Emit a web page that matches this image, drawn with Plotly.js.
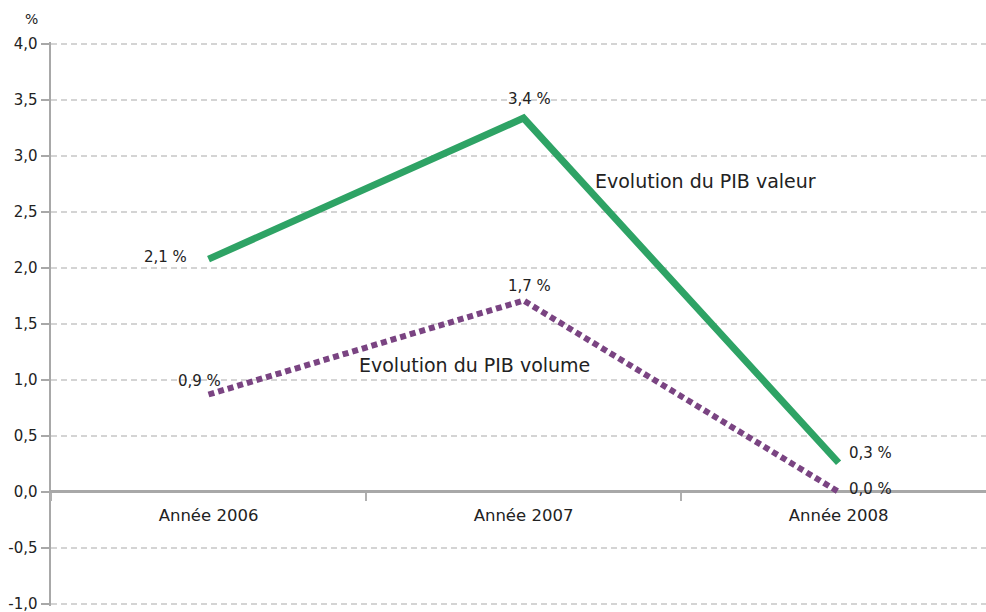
<!DOCTYPE html>
<html><head><meta charset="utf-8">
<script src="https://cdn.plot.ly/plotly-3.0.1.min.js"></script>
<style>html,body{margin:0;padding:0;background:#fff}#c{width:986px;height:612px}</style>
</head><body><div id="c"></div>
<script>
var categories = ["Année 2006", "Année 2007", "Année 2008"];
var pibValeur = [2.08, 3.34, 0.26];
var pibVolume = [0.87, 1.71, 0.0];
var labelsValeur = ["2,1 %", "3,4 %", "0,3 %"];
var labelsVolume = ["0,9 %", "1,7 %", "0,0 %"];
var yTicks = [-1, -0.5, 0, 0.5, 1, 1.5, 2, 2.5, 3, 3.5, 4];
var yTickText = ["-1,0", "-0,5", "0,0", "0,5", "1,0", "1,5", "2,0", "2,5", "3,0", "3,5", "4,0"];

var font = "DejaVu Sans, sans-serif";
var traces = [
  {x: categories, y: pibValeur, type: "scatter", mode: "lines",
   line: {color: "#2ea365", width: 7}, hoverinfo: "skip", cliponaxis: false},
  {x: categories, y: pibVolume, type: "scatter", mode: "lines",
   line: {color: "#7a4482", width: 6, dash: "6px,4px"}, hoverinfo: "skip", cliponaxis: false}
];
var ann = [];
// value labels: [index, xanchor, yanchor, xshift, yshift]
var vPos = [[0, "right", "middle", -20, 2], [1, "center", "bottom", 6, 8], [2, "left", "middle", 8, 10]];
var pPos = [[0, "right", "middle", 14, 14], [1, "center", "bottom", 6, 4], [2, "left", "middle", 8, 3]];
vPos.forEach(function(p){
  ann.push({x: p[0], y: pibValeur[p[0]], xref: "x", yref: "y", text: labelsValeur[p[0]],
    showarrow: false, xanchor: p[1], yanchor: p[2], xshift: p[3], yshift: p[4],
    font: {family: font, size: 15, color: "#222"}});
});
pPos.forEach(function(p){
  ann.push({x: p[0], y: pibVolume[p[0]], xref: "x", yref: "y", text: labelsVolume[p[0]],
    showarrow: false, xanchor: p[1], yanchor: p[2], xshift: p[3], yshift: p[4],
    font: {family: font, size: 15, color: "#222"}});
});
ann.push({x: 1.22, y: 2.78, xref: "x", yref: "y", text: "Evolution du PIB valeur", showarrow: false,
  xanchor: "left", yanchor: "middle", font: {family: font, size: 19, color: "#222"}});
ann.push({x: 0.47, y: 1.13, xref: "x", yref: "y", text: "Evolution du PIB volume", showarrow: false,
  xanchor: "left", yanchor: "middle", font: {family: font, size: 19, color: "#222"}});
ann.push({x: -0.02, y: 1.045, xref: "paper", yref: "paper", text: "%", showarrow: false,
  xanchor: "center", yanchor: "middle", xshift: -1, yshift: -2,
  font: {family: font, size: 14, color: "#222"}});

var layout = {
  width: 986, height: 612,
  margin: {l: 51, r: 0, t: 42, b: 6},
  paper_bgcolor: "#fff", plot_bgcolor: "#fff",
  showlegend: false,
  font: {family: font, size: 15, color: "#222"},
  xaxis: {type: "category", range: [-0.5, 2.468], anchor: "free", position: 0.2024,
    tickson: "boundaries", ticks: "outside", ticklen: 8, tickcolor: "#b0b0b0", tickwidth: 1.5,
    ticklabelstandoff: 12, automargin: false,
    showgrid: false, showline: false, zeroline: false, fixedrange: true,
    tickfont: {family: font, size: 16.5, color: "#222"}},
  yaxis: {range: [-1.02, 4.02], tickmode: "array", tickvals: yTicks, ticktext: yTickText,
    ticks: "outside", ticklen: 8, tickcolor: "#a8a8a8", tickwidth: 2, automargin: false,
    ticklabeloverflow: "allow",
    showgrid: true, gridcolor: "#d4d4d4", griddash: "6px,4px", gridwidth: 1.5,
    zeroline: true, zerolinecolor: "#a8a8a8", zerolinewidth: 3,
    showline: true, linecolor: "#a8a8a8", linewidth: 2.5,
    tickfont: {family: font, size: 15, color: "#222"}},
  annotations: ann
};
Plotly.newPlot("c", traces, layout, {staticPlot: true, displayModeBar: false});
</script></body></html>
